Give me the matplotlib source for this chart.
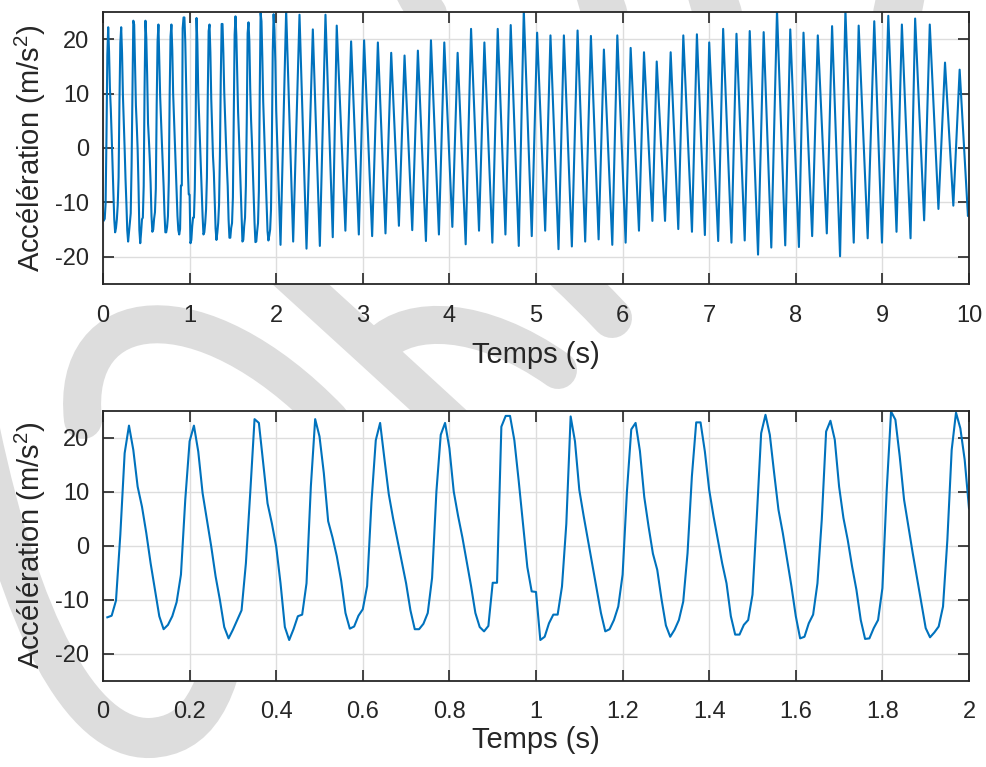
import numpy as np
import matplotlib
matplotlib.use('Agg')
import matplotlib.pyplot as plt
from matplotlib.path import Path
from matplotlib.patches import PathPatch
from matplotlib.ticker import StrMethodFormatter

# %% Data
# zoom window: samples every 10 ms from t = 0.01 s to 2.00 s
dt = 0.01
acc_zoom = [
    -13.3, -13.0, -10.2, 2.0, 17.1, 22.2, 17.7, 10.9, 7.2, 2.3,
    -3.3, -8.2, -13.1, -15.5, -14.7, -13.1, -10.5, -5.4, 8.5, 19.3,
    22.2, 17.4, 9.7, 4.8, -0.2, -5.7, -10.1, -15.1, -17.2, -15.6,
    -13.8, -12.0, -3.3, 9.7, 23.4, 22.7, 15.2, 7.8, 4.1, -0.2,
    -7.0, -15.1, -17.5, -15.5, -13.1, -12.8, -7.0, 10.9, 23.4, 20.2,
    13.4, 4.5, 1.5, -2.0, -6.5, -12.5, -15.4, -15.0, -13.0, -11.8,
    -7.5, 8.0, 19.5, 22.7, 16.0, 9.5, 5.0, 1.0, -3.0, -7.0,
    -12.0, -15.5, -15.5, -14.5, -12.5, -6.0, 10.0, 20.5, 22.7, 18.0,
    10.0, 5.5, 1.5, -3.0, -7.5, -12.5, -15.1, -15.9, -14.9, -6.9,
    -6.9, 22.0, 24.0, 24.0, 19.5, 12.0, 4.0, -4.0, -8.5, -8.6,
    -17.5, -16.9, -14.4, -12.8, -12.8, -7.6, 4.0, 23.9, 19.3, 10.3,
    5.5, 1.0, -3.5, -8.0, -12.5, -15.9, -15.5, -13.8, -11.3, -5.4,
    10.0, 21.5, 22.7, 17.5, 9.0, 3.5, -1.5, -4.5, -10.0, -14.8,
    -16.9, -15.6, -13.8, -10.4, -1.4, 12.8, 22.8, 22.8, 17.4, 10.3,
    5.4, 1.0, -3.3, -7.0, -13.1, -16.5, -16.5, -14.7, -13.8, -9.1,
    5.4, 20.8, 24.2, 20.5, 13.4, 6.6, 2.3, -2.7, -7.6, -13.1,
    -17.2, -16.9, -14.4, -12.8, -7.0, 4.8, 21.1, 23.1, 19.6, 10.9,
    5.1, 1.0, -3.9, -8.2, -13.8, -17.3, -17.2, -15.3, -13.8, -7.9,
    10.3, 24.8, 23.3, 16.5, 8.5, 3.5, -1.4, -6.0, -10.7, -15.3,
    -17.0, -16.1, -15.0, -11.3, 1.0, 17.7, 24.6, 21.7, 15.9, 6.9,
]

# full record after 2 s: successive troughs / peaks (time, value)
t_ext = [
    2.050, 2.115, 2.196, 2.269, 2.350, 2.423, 2.504, 2.569, 2.653, 2.699,
    2.799, 2.865, 2.954, 3.015, 3.108, 3.174, 3.262, 3.328, 3.417, 3.482,
    3.571, 3.636, 3.729, 3.787, 3.879, 3.941, 4.034, 4.095, 4.188, 4.250,
    4.342, 4.404, 4.496, 4.558, 4.647, 4.708, 4.801, 4.859, 4.951, 5.013,
    5.106, 5.167, 5.260, 5.322, 5.414, 5.480, 5.568, 5.634, 5.723, 5.784,
    5.881, 5.939, 6.035, 6.093, 6.189, 6.247, 6.344, 6.394, 6.490, 6.555,
    6.643, 6.701, 6.801, 6.858, 6.950, 7.000, 7.104, 7.161, 7.257, 7.315,
    7.410, 7.468, 7.564, 7.629, 7.717, 7.783, 7.878, 7.936, 8.036, 8.089,
    8.189, 8.254, 8.358, 8.419, 8.511, 8.573, 8.669, 8.726, 8.830, 8.906,
    8.995, 9.068, 9.163, 9.225, 9.325, 9.378, 9.482, 9.547, 9.647, 9.723,
    9.819, 9.892, 9.988, 10.000,
]
acc_ext = [
    -17.8, 25.3, -17.2, 24.5, -18.5, 21.8, -18.0, 24.5, -16.4, 22.5,
    -15.2, 19.6, -15.9, 19.8, -16.2, 19.4, -15.7, 17.5, -14.3, 17.0,
    -15.1, 17.9, -17.1, 19.8, -15.9, 19.4, -14.5, 17.5, -17.7, 21.9,
    -15.2, 19.4, -17.4, 21.9, -15.9, 22.6, -18.0, 25.3, -16.2, 21.2,
    -15.2, 20.7, -18.6, 20.7, -18.1, 21.6, -17.2, 20.6, -16.8, 18.1,
    -17.8, 20.7, -17.4, 18.4, -15.2, 17.6, -13.4, 15.9, -13.4, 17.6,
    -14.9, 20.7, -15.4, 20.9, -16.0, 19.4, -17.1, 21.9, -17.4, 21.0,
    -17.0, 21.5, -19.6, 21.3, -18.3, 25.3, -17.9, 21.8, -18.2, 21.2,
    -16.2, 20.7, -15.7, 22.4, -19.9, 25.3, -17.4, 22.5, -16.6, 23.3,
    -17.4, 24.3, -15.4, 22.7, -16.6, 23.8, -13.3, 22.7, -11.2, 15.7,
    -10.6, 14.4, -12.5, -10.0,
]

xticks_top = [0, 1, 2, 3, 4, 5, 6, 7, 8, 9, 10]
xticks_bot = [0, 0.2, 0.4, 0.6, 0.8, 1.0, 1.2, 1.4, 1.6, 1.8, 2.0]
yticks = [-20, -10, 0, 10, 20]

# %% build the two series
t_zoom = dt * np.arange(1, len(acc_zoom) + 1)
t_full = np.concatenate([t_zoom, t_ext])
acc_full = np.concatenate([acc_zoom, acc_ext])

# %% style
plt.rcParams['font.family'] = ['Liberation Sans', 'DejaVu Sans']
plt.rcParams['mathtext.fontset'] = 'custom'
plt.rcParams['mathtext.rm'] = 'Liberation Sans'
plt.rcParams['mathtext.it'] = 'Liberation Sans:italic'
plt.rcParams['axes.unicode_minus'] = False

W, H = 986, 767
fig = plt.figure(figsize=(W / 100, H / 100), dpi=100)

# light grey watermark behind the axes (figure pixel coords, y down)
def px(x, y):
    return (x / W, 1 - y / H)

wm = [
    ([(83, 420), (70, 300), (200, 285), (330, 420)], 38),
    ([(-20, 430), (20, 620), (80, 740), (150, 738)], 40),
    ([(150, 738), (195, 736), (222, 700), (232, 600)], 40),
    ([(285, 270), (340, 320), (400, 375), (460, 430)], 38),
    ([(380, 345), (410, 315), (480, 315), (558, 370)], 38),
    ([(555, 262), (575, 280), (595, 300), (612, 318)], 40),
    ([(405, -30), (410, -15), (418, 0), (428, 14)], 38),
    ([(592, -30), (596, -15), (600, 0), (605, 14)], 45),
    ([(705, -30), (709, -15), (713, 0), (718, 14)], 48),
    ([(905, -30), (903, -15), (900, 0), (897, 14)], 48),
]
for pts, wpx in wm:
    path = Path([px(*p) for p in pts], [Path.MOVETO, Path.CURVE4, Path.CURVE4, Path.CURVE4])
    patch = PathPatch(path, facecolor='none', edgecolor='#dddddd', lw=wpx * 0.72,
                      capstyle='round', transform=fig.transFigure, zorder=-5)
    fig.add_artist(patch)

ax1 = fig.add_axes([103 / W, 1 - 284 / H, 866 / W, 272 / H])
ax2 = fig.add_axes([103 / W, 1 - 680.5 / H, 866 / W, 270 / H])

line_col = '#0072BD'
txt_col = '#262626'
ylab = 'Accélération (m/s$^{\\mathrm{2}}$)'

ax1.plot(t_full, acc_full, color=line_col, lw=1.5)
ax1.set_xlim(0, 10)
ax1.set_xticks(xticks_top)

ax2.plot(t_zoom, acc_zoom, color=line_col, lw=1.5)
ax2.set_xlim(0, 2)
ax2.set_xticks(xticks_bot)
ax2.xaxis.set_major_formatter(StrMethodFormatter('{x:g}'))

for ax in (ax1, ax2):
    ax.set_ylim(-25, 25)
    ax.set_yticks(yticks)
    ax.grid(True, color='#dddddd', lw=1.0)
    ax.set_axisbelow(True)
    ax.tick_params(direction='in', length=8, width=1.2, top=True, right=True,
                   labelsize=17, colors=txt_col)
    ax.tick_params(axis='x', pad=15)
    ax.tick_params(axis='y', pad=10)
    for s in ax.spines.values():
        s.set_linewidth(1.3)
        s.set_color(txt_col)
    ax.set_xlabel('Temps (s)', fontsize=21, color=txt_col, va='baseline')
    ax.set_ylabel(ylab, fontsize=21, color=txt_col)
    ax.yaxis.set_label_coords(-0.063, 0.5)

ax1.xaxis.set_label_coords(0.5, -0.289)
ax2.xaxis.set_label_coords(0.5, -0.25)

fig.savefig('out.png', dpi=100, facecolor='white')
